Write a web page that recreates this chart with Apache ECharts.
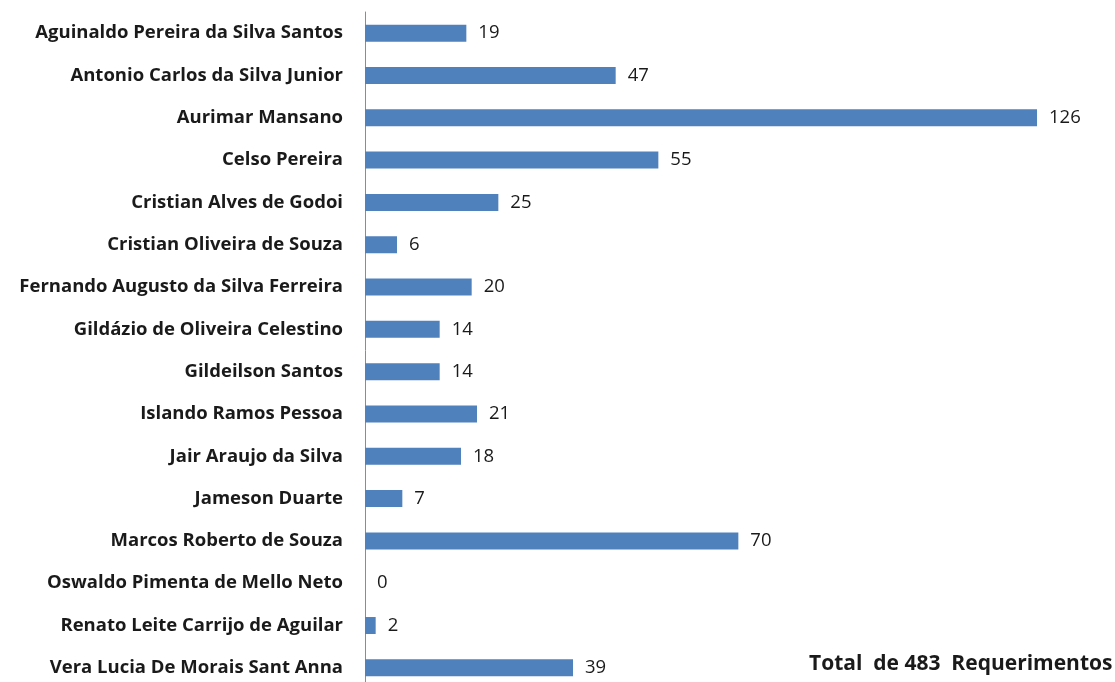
<!DOCTYPE html>
<html><head><meta charset="utf-8">
<script src="https://cdn.jsdelivr.net/npm/echarts@6/dist/echarts.min.js"></script>
<style>html,body{margin:0;padding:0;background:#fff;overflow:hidden}#c{width:1115px;height:692px}</style>
</head><body><div id="c"></div>
<script>
const categories = [
  "Aguinaldo Pereira da Silva Santos",
  "Antonio Carlos da Silva Junior",
  "Aurimar Mansano",
  "Celso Pereira",
  "Cristian Alves de Godoi",
  "Cristian Oliveira de Souza",
  "Fernando Augusto da Silva Ferreira",
  "Gildázio de Oliveira Celestino",
  "Gildeilson Santos",
  "Islando Ramos Pessoa",
  "Jair Araujo da Silva",
  "Jameson Duarte",
  "Marcos Roberto de Souza",
  "Oswaldo Pimenta de Mello Neto",
  "Renato Leite Carrijo de Aguilar",
  "Vera Lucia De Morais Sant Anna"
];
const values = [19, 47, 126, 55, 25, 6, 20, 14, 14, 21, 18, 7, 70, 0, 2, 39];
const totalText = "Total  de 483  Requerimentos";

const chart = echarts.init(document.getElementById('c'));
chart.setOption({
  animation: false,
  backgroundColor: '#ffffff',
  grid: { left: 365, top: 12, width: 746.7, height: 677, containLabel: false },
  xAxis: {
    type: 'value', min: 0, max: 140, show: false
  },
  yAxis: {
    type: 'category', data: categories, inverse: true,
    axisLine: { show: true, lineStyle: { color: '#8c8c8c', width: 1 } },
    axisTick: { show: false },
    axisLabel: {
      margin: 22, color: '#1a1a1a', fontWeight: 'bold',
      fontFamily: 'Open Sans', fontSize: 18.5
    }
  },
  series: [{
    type: 'bar', data: values, barWidth: 17,
    itemStyle: { color: '#4f81bd' },
    label: {
      show: true, position: 'right', distance: 12,
      color: '#1a1a1a', fontFamily: 'Open Sans', fontSize: 18.5
    }
  }],
  graphic: [{
    type: 'text', left: 809, top: 654,
    style: { text: totalText, fill: '#1a1a1a', font: 'bold 21px "Open Sans"' }
  }]
});
</script></body></html>
